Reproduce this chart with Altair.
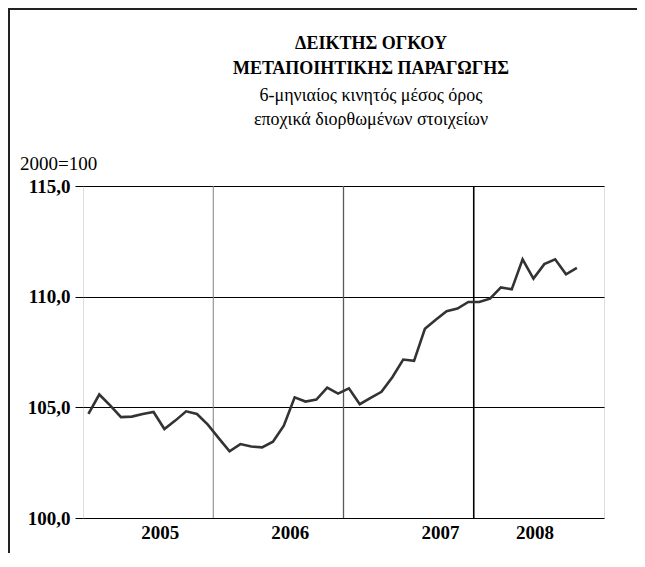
import altair as alt
import pandas as pd

# Monthly index values, Jan 2005 .. Oct 2008 (6-month moving average, 2000=100)
values = [104.70, 105.58, 105.09, 104.56, 104.58, 104.70, 104.79, 104.02, 104.40, 104.82,
          104.70, 104.22, 103.61, 103.01, 103.34, 103.23, 103.19, 103.45, 104.17, 105.45,
          105.26, 105.35, 105.89, 105.62, 105.86, 105.14, 105.43, 105.70, 106.36, 107.16,
          107.10, 108.55, 108.96, 109.34, 109.46, 109.76, 109.76, 109.91, 110.42, 110.33,
          111.69, 110.82, 111.47, 111.69, 111.01, 111.30]
years = ["2005", "2006", "2007", "2008"]
year_label_pos = [7.07, 19.05, 32.9, 41.6]      # label centre, in months from Jan 2005
boundaries = [12, 24, 36]
boundary_names = ["b2006", "b2007", "b2008"]
title_lines = ["ΔΕΙΚΤΗΣ ΟΓΚΟΥ", "ΜΕΤΑΠΟΙΗΤΙΚΗΣ ΠΑΡΑΓΩΓΗΣ"]
subtitle_lines = ["6-μηνιαίος κινητός μέσος όρος", "εποχικά διορθωμένων στοιχείων"]
unit_label = "2000=100"

FONT = "Liberation Serif"
W, H = 521, 332

df = pd.DataFrame({"m": [i + 0.5 for i in range(len(values))], "v": values})
rules_df = pd.DataFrame({"m": boundaries, "b": boundary_names})

xscale = alt.Scale(domain=[0, 48], nice=False, zero=False)
yscale = alt.Scale(domain=[100, 115], nice=False, zero=False)

label_expr = " : ".join(
    f"datum.value < {b} ? '{y}'" for b, y in zip(boundaries, years[:-1])
) + f" : '{years[-1]}'"

line = alt.Chart(df).mark_line(color="#333333", strokeWidth=2.6).encode(
    x=alt.X("m:Q", scale=xscale,
            axis=alt.Axis(values=year_label_pos, labelExpr=label_expr, title=None,
                          grid=False, ticks=False, domain=False, labelFont=FONT,
                          labelFontSize=19, labelFontWeight="bold", labelColor="black",
                          labelPadding=5, labelBaseline="top")),
    y=alt.Y("v:Q", scale=yscale,
            axis=alt.Axis(values=[100, 105, 110, 115],
                          labelExpr="replace(format(datum.value, '.1f'), '.', ',')",
                          title=None, grid=True, gridColor="black", gridWidth=1,
                          gridOpacity=1, ticks=True, tickSize=8, tickColor="black",
                          tickWidth=1, domain=False, labelFont=FONT, labelFontSize=19,
                          labelFontWeight="bold", labelColor="black", labelPadding=5)),
)

rules = alt.Chart(rules_df).mark_rule().encode(
    x=alt.X("m:Q", scale=xscale),
    color=alt.Color("b:N", scale=alt.Scale(domain=boundary_names,
                                           range=["#808080", "#5a5a5a", "#000000"]),
                    legend=None),
    strokeWidth=alt.StrokeWidth("b:N", scale=alt.Scale(domain=boundary_names,
                                                       range=[1.0, 1.6, 1.0]),
                                legend=None),
)

def text_layer(txt, x, y, size, weight="normal", align="center"):
    return alt.Chart(pd.DataFrame({"label": [txt]})).mark_text(
        font=FONT, fontSize=size, fontWeight=weight, align=align,
        baseline="alphabetic", color="black",
    ).encode(text="label:N", x=alt.value(x), y=alt.value(y))

texts = [
    text_layer(title_lines[0], 288, -137, 18, "bold"),
    text_layer(title_lines[1], 288, -112, 18, "bold"),
    text_layer(subtitle_lines[0], 288, -85, 18),
    text_layer(subtitle_lines[1], 288, -61, 18),
    text_layer(unit_label, -63, -16, 19, "normal", "left"),
]

frame = alt.Chart(pd.DataFrame({"k": [0]})).mark_rect(
    fill=None, stroke="#222222", strokeWidth=2
).encode(x=alt.value(-74), x2=alt.value(W + 200), y=alt.value(-177), y2=alt.value(H + 200))

chart = alt.layer(*texts, frame, rules, line).properties(
    width=W, height=H,
    autosize=alt.AutoSizeParams(type="none"),
    padding={"left": 75, "top": 178, "right": 33, "bottom": 35},
).configure_view(stroke="black", strokeWidth=1.5).configure(background="white")

chart.save("out.html", embed_options={"renderer": "svg", "actions": False})
